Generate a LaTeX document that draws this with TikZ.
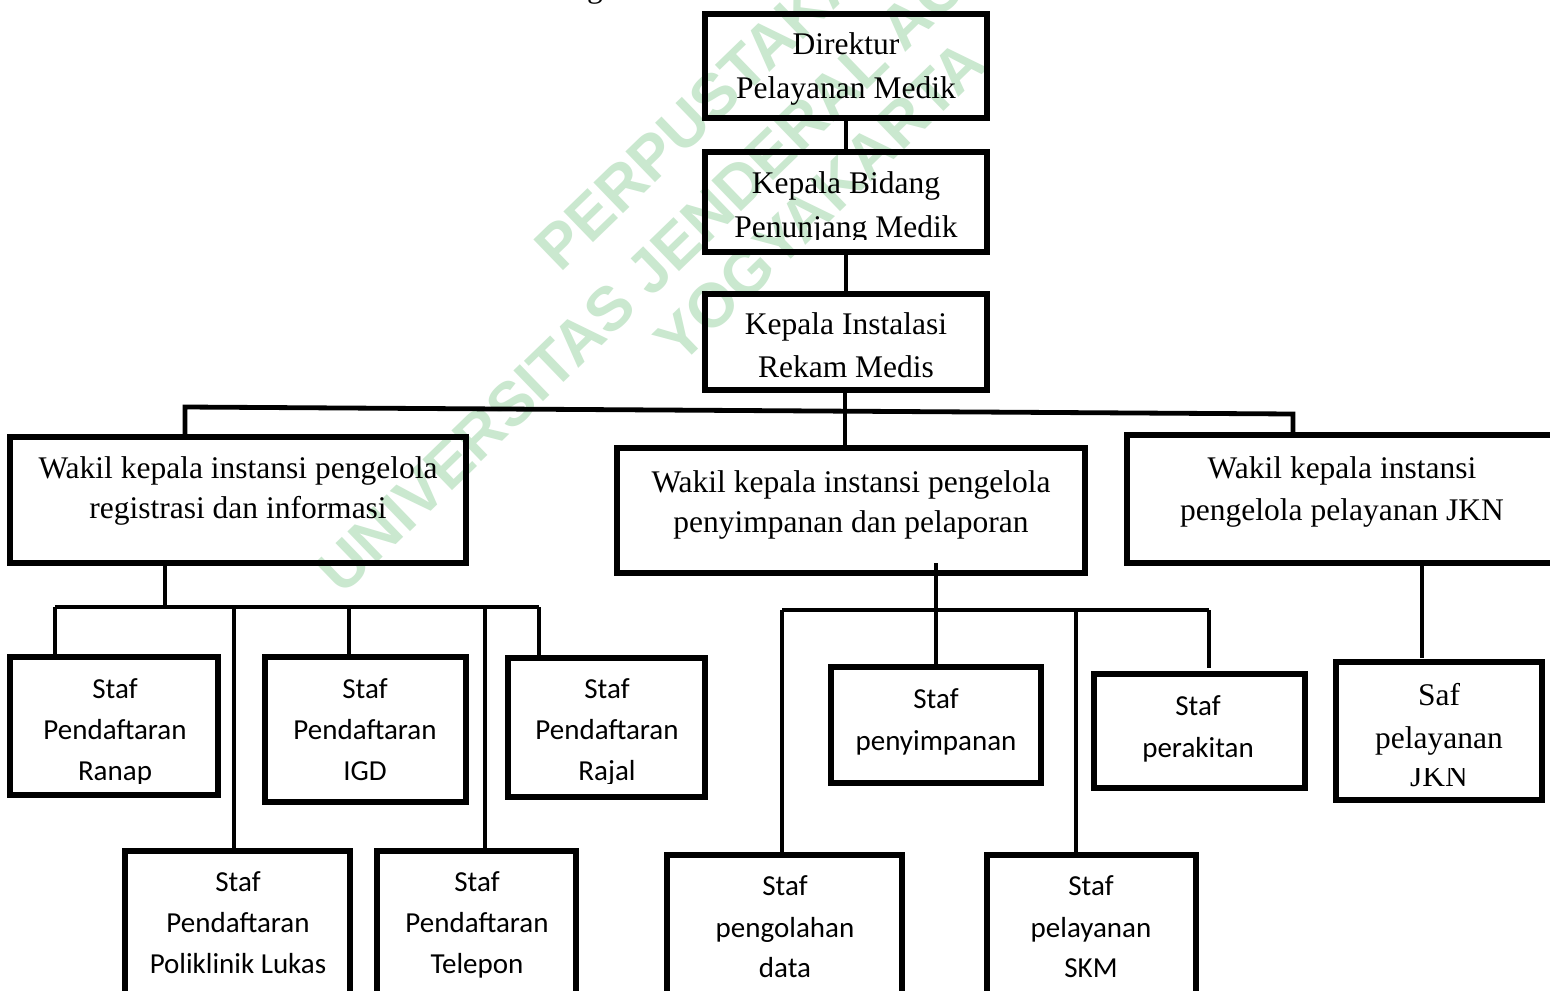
\documentclass[tikz,border=0pt]{standalone}
\usepackage{fontspec}
\setmainfont{Liberation Serif}
\newfontfamily\calfont{Carlito}
\newfontfamily\wmfont{Liberation Sans}
\definecolor{wmgreen}{RGB}{202,232,207}
\begin{document}
\begin{tikzpicture}[x=0.5pt,y=-0.5pt,
  bx/.style={draw, line width=2.6pt, rectangle, inner sep=0pt, outer sep=0pt, anchor=north west},
  ln/.style={line width=2.4pt},
  tn/.style={font=\fontsize{15.75}{15.75}\selectfont, anchor=base, inner sep=0pt},
  cn/.style={font=\calfont\fontsize{14.5}{14.5}\selectfont, anchor=base, inner sep=0pt},
  wm/.style={font=\wmfont\bfseries\fontsize{31}{31}\selectfont, text=wmgreen, rotate=44, anchor=base, inner sep=0pt}]
\useasboundingbox (0,0) rectangle (1550,990);
\clip (0,0) rectangle (1550,990);
\fill[white] (0,0) rectangle (1550,990);

% watermark
\node[wm] (wm1) at (745,96) {PERPUSTAKAAN};
\node[wm] (wm2) at (780,174) {UNIVERSITAS JENDERAL ACHMAD YANI};
\node[wm] (wm3) at (835,217) {YOGYAKARTA};

% cut-off text above
\node[tn] (frag) at (595,-2) {g};

% boxes
\node[bx, minimum width=141pt, minimum height=52pt] (dir) at (705,14) {};
\node[bx, minimum width=141pt, minimum height=50pt] (kabid) at (705,152) {};
\node[bx, minimum width=141pt, minimum height=48pt] (kains) at (705,294) {};
\node[bx, minimum width=228pt, minimum height=63pt] (wk1) at (10,437) {};
\node[bx, minimum width=234pt, minimum height=62.5pt] (wk2) at (617,448) {};
\node[bx, minimum width=230pt, minimum height=64pt] (wk3) at (1127,435) {};
\node[bx, minimum width=104pt, minimum height=69pt] (ranap) at (10,657) {};
\node[bx, minimum width=100.5pt, minimum height=72.5pt] (igd) at (265,657) {};
\node[bx, minimum width=98.5pt, minimum height=69.5pt] (rajal) at (508,658) {};
\node[bx, minimum width=112.5pt, minimum height=80pt] (poli) at (125,851) {};
\node[bx, minimum width=99.5pt, minimum height=80pt] (telp) at (377,851) {};
\node[bx, minimum width=105pt, minimum height=58pt] (simpan) at (831,667) {};
\node[bx, minimum width=105.5pt, minimum height=57pt] (rakit) at (1094,674) {};
\node[bx, minimum width=103pt, minimum height=69pt] (saf) at (1336,662) {};
\node[bx, minimum width=117.5pt, minimum height=80pt] (olah) at (667,855) {};
\node[bx, minimum width=104.5pt, minimum height=80pt] (skm) at (987,855) {};

% texts (serif)
\node[tn] (tdir1) at (846,55) {Direktur};
\node[tn] (tdir2) at (846,98) {Pelayanan Medik};
\node[tn] (tkab1) at (846,193) {Kepala Bidang};
\begin{scope}
\clip (705,200) rectangle (987,239);
\node[tn] (tkab2) at (846,237) {Penunjang Medik};
\end{scope}
\node[tn] (tkai1) at (846,334) {Kepala Instalasi};
\node[tn] (tkai2) at (846,377) {Rekam Medis};
\node[tn] (twk11) at (238,478) {Wakil kepala instansi pengelola};
\node[tn] (twk12) at (238,518) {registrasi dan informasi};
\node[tn] (twk21) at (851,492) {Wakil kepala instansi pengelola};
\node[tn] (twk22) at (851,532) {penyimpanan dan pelaporan};
\node[tn] (twk31) at (1342,478) {Wakil kepala instansi};
\node[tn] (twk32) at (1342,520) {pengelola pelayanan JKN};
\node[tn] (tsaf1) at (1439,705) {Saf};
\node[tn] (tsaf2) at (1439,748) {pelayanan};
\begin{scope}
\clip (1336,768) rectangle (1542,798);
\node[tn] (tsaf3) at (1439,786) {JKN};
\end{scope}

% texts (sans)
\node[cn] (tran1) at (115,698) {Staf};
\node[cn] (tran2) at (115,739) {Pendaftaran};
\begin{scope}
\clip (10,750) rectangle (218,783);
\node[cn] (tran3) at (115,780) {Ranap};
\end{scope}
\node[cn] (tigd1) at (365,698) {Staf};
\node[cn] (tigd2) at (365,739) {Pendaftaran};
\node[cn] (tigd3) at (365,780) {IGD};
\node[cn] (traj1) at (607,698) {Staf};
\node[cn] (traj2) at (607,739) {Pendaftaran};
\begin{scope}
\clip (508,750) rectangle (705,783);
\node[cn] (traj3) at (607,780) {Rajal};
\end{scope}
\node[cn] (tpol1) at (238,891) {Staf};
\node[cn] (tpol2) at (238,932) {Pendaftaran};
\node[cn] (tpol3) at (238,973) {Poliklinik Lukas};
\node[cn] (ttel1) at (477,891) {Staf};
\node[cn] (ttel2) at (477,932) {Pendaftaran};
\node[cn] (ttel3) at (477,973) {Telepon};
\node[cn] (tsim1) at (936,708) {Staf};
\node[cn] (tsim2) at (936,750) {penyimpanan};
\node[cn] (trak1) at (1198,715) {Staf};
\node[cn] (trak2) at (1198,757) {perakitan};
\node[cn] (tola1) at (785,895) {Staf};
\node[cn] (tola2) at (785,937) {pengolahan};
\node[cn] (tola3) at (785,977) {data};
\node[cn] (tskm1) at (1091,895) {Staf};
\node[cn] (tskm2) at (1091,937) {pelayanan};
\node[cn] (tskm3) at (1091,977) {SKM};

% connectors
\coordinate (bL) at (185,407);
\coordinate (bR) at (1293,414);
\coordinate (bM) at (845,410.7);
\draw[ln] (dir.south) -- (kabid.north);
\draw[ln] (kabid.south) -- (kains.north);
\draw[ln] (kains.south -| bM) -- (wk2.north -| bM);
\draw[ln] (wk1.north -| bL) -- (bL) -- (bR) -- (wk3.north -| bR);

\coordinate (rm) at (165,607);
\coordinate (r0) at (55,607);
\coordinate (r1) at (234,607);
\coordinate (r2) at (349,607);
\coordinate (r3) at (485,607);
\coordinate (r4) at (539,607);
\draw[ln] (wk1.south -| rm) -- (rm);
\draw[ln] (r0) -- (r4);
\draw[ln] (r0) -- (ranap.north -| r0);
\draw[ln] (r1) -- (poli.north -| r1);
\draw[ln] (r2) -- (igd.north -| r2);
\draw[ln] (r3) -- (telp.north -| r3);
\draw[ln] (r4) -- (rajal.north -| r4);

\coordinate (sTop) at (936,563);
\coordinate (s0) at (782,610);
\coordinate (s1) at (1076,610);
\coordinate (s2) at (1209,610);
\coordinate (s2e) at (1209,668);
\draw[ln] (sTop) -- (simpan.north -| sTop);
\draw[ln] (s0) -- (s2);
\draw[ln] (s0) -- (olah.north -| s0);
\draw[ln] (s1) -- (skm.north -| s1);
\draw[ln] (s2) -- (s2e);

\coordinate (jx) at (1422,658);
\draw[ln] (wk3.south -| jx) -- (jx);
\end{tikzpicture}
\end{document}
